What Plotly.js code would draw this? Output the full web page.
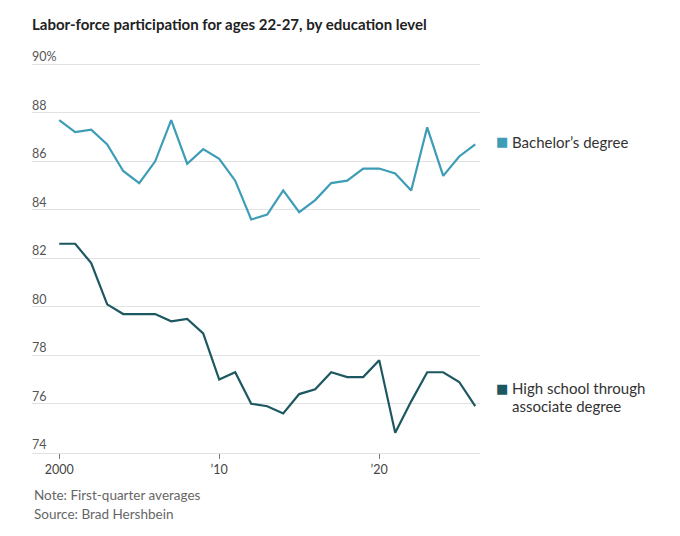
<!DOCTYPE html>
<html>
<head>
<meta charset="utf-8">
<script src="https://cdn.plot.ly/plotly-3.0.1.min.js"></script>
<style>
  html, body { margin: 0; padding: 0; background: #fff; }
  #chart { width: 680px; height: 536px; }
</style>
</head>
<body>
<div id="chart"></div>
<script>
'use strict';

// first-quarter averages, percent
const years = [];
for (let y = 2000; y <= 2026; y++) years.push(y);

const bachelor = [87.7, 87.2, 87.3, 86.7, 85.6, 85.1, 86.0, 87.7, 85.9, 86.5,
  86.1, 85.2, 83.6, 83.8, 84.8, 83.9, 84.4, 85.1, 85.2, 85.7,
  85.7, 85.5, 84.8, 87.4, 85.4, 86.2, 86.7];

const highSchool = [82.6, 82.6, 81.8, 80.1, 79.7, 79.7, 79.7, 79.4, 79.5, 78.9,
  77.0, 77.3, 76.0, 75.9, 75.6, 76.4, 76.6, 77.3, 77.1, 77.1,
  77.8, 74.8, 76.1, 77.3, 77.3, 76.9, 75.9];

const yTicks = [74, 76, 78, 80, 82, 84, 86, 88, 90];
const yTickText = ['74', '76', '78', '80', '82', '84', '86', '88', '90%'];
const xTicks = [2000, 2010, 2020];
const xTickText = ['2000', '\u201910', '\u201920'];

const seriesNames = [['Bachelor\u2019s degree'], ['High school through', 'associate degree']];
const seriesColors = ['#3d9db6', '#1d5861'];
const labelY = [86.8, 76.65];

const font = 'Lato, "Noto Sans", sans-serif';

const traces = [
  { x: years, y: bachelor, type: 'scatter', mode: 'lines', name: seriesNames[0].join(' '),
    line: { color: seriesColors[0], width: 2.2 }, hoverinfo: 'skip' },
  { x: years, y: highSchool, type: 'scatter', mode: 'lines', name: seriesNames[1].join(' '),
    line: { color: seriesColors[1], width: 2.2 }, hoverinfo: 'skip' }
];

const annotations = [];
// y tick labels sit above their gridlines, inside the plot
yTicks.forEach(function (v, i) {
  annotations.push({
    xref: 'paper', yref: 'y', x: 0, y: v, xanchor: 'left', yanchor: 'bottom',
    yshift: -2, xshift: -2, text: yTickText[i], showarrow: false,
    font: { family: font, size: 12.5, color: '#555' }
  });
});
seriesNames.forEach(function (lines, i) {
  annotations.push({
    xref: 'paper', yref: 'y', x: 1.031, y: labelY[i], xanchor: 'left', yanchor: 'middle',
    text: '\u25A0', showarrow: false, font: { family: 'DejaVu Sans', size: 13, color: seriesColors[i] }
  });
  lines.forEach(function (line, j) {
    annotations.push({
      xref: 'paper', yref: 'y', x: 1.067, y: labelY[i], xanchor: 'left', yanchor: 'middle',
      yshift: -18 * j, text: line, align: 'left', showarrow: false,
      font: { family: font, size: 15, color: '#333' }
    });
  });
});
annotations.push({
  xref: 'paper', yref: 'paper', x: 0, y: -0.102, xanchor: 'left', yanchor: 'middle',
  text: 'Note: First-quarter averages', align: 'left', showarrow: false,
  font: { family: font, size: 13.5, color: '#666' }
});
annotations.push({
  xref: 'paper', yref: 'paper', x: 0, y: -0.148, xanchor: 'left', yanchor: 'middle',
  text: 'Source: Brad Hershbein', align: 'left', showarrow: false,
  font: { family: font, size: 13.5, color: '#666' }
});

const layout = {
  width: 680, height: 536,
  margin: { l: 32, r: 200, t: 42, b: 83 },
  paper_bgcolor: '#fff', plot_bgcolor: '#fff',
  showlegend: false,
  title: { text: '<b>Labor-force participation for ages 22-27, by education level</b>',
    x: 32 / 680, xanchor: 'left', y: 1 - 25 / 536, yanchor: 'middle',
    font: { family: font, size: 15, color: '#222' } },
  font: { family: font },
  xaxis: {
    range: [1998.3, 2026.3], tickvals: xTicks, ticktext: xTickText,
    showgrid: false, zeroline: false, showline: true, linecolor: '#e2e2e2', linewidth: 1,
    ticks: 'outside', ticklen: 5, tickwidth: 1, tickcolor: '#777',
    tickfont: { family: font, size: 12.5, color: '#444' }
  },
  yaxis: {
    range: [73.97, 90.92], tickvals: yTicks, showticklabels: false,
    showgrid: true, gridcolor: '#e2e2e2', gridwidth: 1, zeroline: false, ticks: ''
  },
  annotations: annotations
};

Plotly.newPlot('chart', traces, layout, { displayModeBar: false, staticPlot: true });
</script>
</body>
</html>
